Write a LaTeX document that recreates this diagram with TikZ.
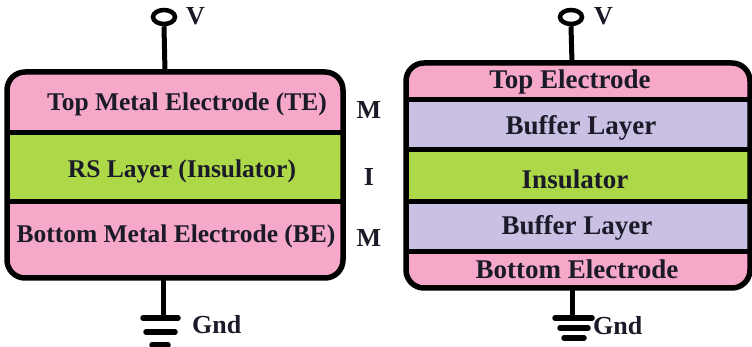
\documentclass[tikz,border=0pt]{standalone}
\usepackage{fontspec}
\setmainfont{Liberation Serif}
\usetikzlibrary{shapes.geometric}

\definecolor{metalpink}{HTML}{F6A8C8}
\definecolor{rsgreen}{HTML}{ADD848}
\definecolor{bufferlilac}{HTML}{C9C0E4}
\definecolor{inkdark}{HTML}{1A1A28}

\tikzset{
  wire/.style={line width=5pt, draw=black},
  outline/.style={line width=5.5pt, draw=black, rounded corners=18pt},
  layertext/.style={font=\bfseries\fontsize{25.5}{28}\selectfont, text=inkdark, inner sep=0pt},
  layertextb/.style={font=\bfseries\fontsize{27}{30}\selectfont, text=inkdark, inner sep=0pt},
  sidetext/.style={font=\bfseries\fontsize{26}{28}\selectfont, text=inkdark, inner sep=0pt},
  terminal/.style={ellipse, draw=black, line width=4.5pt, minimum width=22pt, minimum height=14pt, inner sep=0pt},
  gndbar/.style={line width=5.5pt, line cap=round},
}

\begin{document}
\begin{tikzpicture}[x=1pt, y=-1pt]
  \useasboundingbox (0,0) rectangle (752,347);

  % ---------------- MIM stack ----------------
  \fill[metalpink, rounded corners=18pt] (7,72) rectangle (343,278);
  \fill[rsgreen] (7,133) rectangle (343,202);
  \draw[wire] (7,133) -- (343,133);
  \draw[wire] (7,202) -- (343,202);
  \draw[outline] (7,72) rectangle (343,278);
  \coordinate (lTop) at (165,72);
  \coordinate (lBot) at (163,278);

  \node[layertext] (lte) at (187,104) {Top Metal Electrode (TE)};
  \node[layertext] (lrs) at (182,171) {RS Layer (Insulator)};
  \node[layertext] (lbe) at (176,236) {Bottom Metal Electrode (BE)};

  \node[sidetext] (m1) at (369,110) {M};
  \node[sidetext] (i1) at (369,177) {I};
  \node[sidetext] (m2) at (369,238) {M};

  % supply terminal
  \node[terminal] (lV) at (164,17) {};
  \node[sidetext, anchor=west] (lVt) at (186,16) {V};
  \draw[wire] (lV.south) -- (lTop);

  % ground
  \coordinate (lG) at (163,318);
  \draw[wire] (lBot) -- (lG);
  \draw[gndbar] (143,318) -- (178,318);
  \draw[gndbar] (146,332) -- (175,332);
  \draw[gndbar] (152,345) -- (168,345);
  \node[sidetext, anchor=west] (lGt) at (192,325) {Gnd};

  % ---------------- stack with buffer layers ----------------
  \fill[metalpink, rounded corners=18pt] (406,63) rectangle (750,288);
  \fill[bufferlilac] (406,100) rectangle (750,150);
  \fill[rsgreen] (406,150) rectangle (750,202);
  \fill[bufferlilac] (406,202) rectangle (750,252);
  \draw[wire] (406,100) -- (750,100);
  \draw[wire] (406,150) -- (750,150);
  \draw[wire] (406,202) -- (750,202);
  \draw[wire] (406,252) -- (750,252);
  \draw[outline] (406,63) rectangle (750,288);
  \coordinate (rTop) at (572,63);
  \coordinate (rBot) at (572,288);

  \node[layertextb] (rte) at (570,82) {Top Electrode};
  \node[layertextb] (rb1) at (581,128) {Buffer Layer};
  \node[layertextb] (rin) at (575,179) {Insulator};
  \node[layertextb] (rb2) at (577,228) {Buffer Layer};
  \node[layertextb] (rbe) at (577,269) {Bottom Electrode};

  % supply terminal
  \node[terminal] (rV) at (571,17) {};
  \node[sidetext, anchor=west] (rVt) at (594,16) {V};
  \draw[wire] (rV.south) -- (rTop);

  % ground
  \coordinate (rG) at (572,318);
  \draw[wire] (rBot) -- (rG);
  \draw[gndbar] (555,318) -- (592,318);
  \draw[gndbar] (560,328) -- (588,328);
  \draw[gndbar] (564,338) -- (584,338);
  \node[sidetext, anchor=west] (rGt) at (593,326) {Gnd};
\end{tikzpicture}
\end{document}
